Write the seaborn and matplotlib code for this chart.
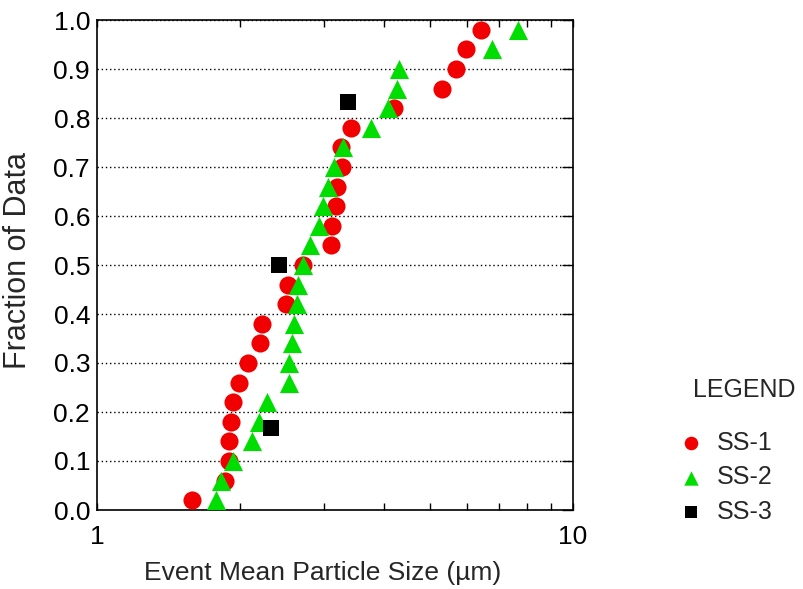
import pandas as pd
import seaborn as sns
import matplotlib.pyplot as plt
from matplotlib.ticker import FixedLocator, FixedFormatter, NullFormatter

# values
ss1_size = [1.58, 1.86, 1.89, 1.89, 1.91, 1.93, 1.99, 2.08, 2.20, 2.22, 2.50, 2.52, 2.71,
            3.10, 3.12, 3.17, 3.20, 3.27, 3.26, 3.41, 4.21, 5.31, 5.67, 5.95, 6.41]
ss1_frac = [0.02, 0.06, 0.10, 0.14, 0.18, 0.22, 0.26, 0.30, 0.34, 0.38, 0.42, 0.46, 0.50,
            0.54, 0.58, 0.62, 0.66, 0.70, 0.74, 0.78, 0.82, 0.86, 0.90, 0.94, 0.98]

ss2_size = [1.78, 1.82, 1.93, 2.12, 2.19, 2.28, 2.53, 2.535, 2.565, 2.59, 2.63, 2.64, 2.71,
            2.80, 2.92, 2.99, 3.05, 3.14, 3.29, 3.76, 4.08, 4.26, 4.30, 6.75, 7.68]
ss2_frac = [0.02, 0.06, 0.10, 0.14, 0.18, 0.22, 0.26, 0.30, 0.34, 0.38, 0.42, 0.46, 0.50,
            0.54, 0.58, 0.62, 0.66, 0.70, 0.74, 0.78, 0.82, 0.86, 0.90, 0.94, 0.98]

ss3_size = [2.32, 2.415, 3.36]
ss3_frac = [0.167, 0.500, 0.833]

series = ['SS-1', 'SS-2', 'SS-3']
colors = {'SS-1': '#f00000', 'SS-2': '#00dd00', 'SS-3': 'black'}
markers = {'SS-1': 'o', 'SS-2': '^', 'SS-3': 's'}
sizes = {'SS-1': 170, 'SS-2': 190, 'SS-3': 120}

df1 = pd.DataFrame({'size': ss1_size, 'frac': ss1_frac, 'series': 'SS-1'})
df2 = pd.DataFrame({'size': ss2_size, 'frac': ss2_frac, 'series': 'SS-2'})
df3 = pd.DataFrame({'size': ss3_size, 'frac': ss3_frac, 'series': 'SS-3'})

sns.set_style("white")
plt.rcParams['font.family'] = ['Liberation Sans', 'DejaVu Sans']

fig = plt.figure(figsize=(8.04, 5.89), dpi=100)
ax = fig.add_axes([97 / 804, 79 / 589, 476 / 804, 490 / 589])

for name, d in zip(series, [df1, df2, df3]):
    sns.scatterplot(data=d, x='size', y='frac', color=colors[name], marker=markers[name],
                    s=sizes[name], linewidth=0, label=name, ax=ax, zorder=3)

ax.set_xscale('log')
ax.set_xlim(1, 10)
ax.set_ylim(0, 1.0)
ax.xaxis.set_major_locator(FixedLocator([1, 10]))
ax.xaxis.set_major_formatter(FixedFormatter(['1', '10']))
ax.xaxis.set_minor_locator(FixedLocator([2, 3, 4, 5, 6, 7, 8, 9]))
ax.xaxis.set_minor_formatter(NullFormatter())
ax.set_yticks([0.0, 0.1, 0.2, 0.3, 0.4, 0.5, 0.6, 0.7, 0.8, 0.9, 1.0])
ax.set_yticklabels(['0.0', '0.1', '0.2', '0.3', '0.4', '0.5', '0.6', '0.7', '0.8', '0.9', '1.0'])

ax.yaxis.grid(True, linestyle=(0, (1, 2)), color='black', linewidth=1)
ax.xaxis.grid(False)
for sp in ax.spines.values():
    sp.set_color('black')
    sp.set_linewidth(1.2)

ax.tick_params(axis='x', which='both', direction='in', top=True, bottom=True,
               length=5, width=1, colors='black', labelsize=19, pad=11)
ax.tick_params(axis='y', which='both', direction='in', left=False, right=True,
               length=8, width=1, colors='black', labelsize=19, pad=5)

ax.set_xlabel('Event Mean Particle Size (µm)', fontsize=19)
ax.xaxis.set_label_coords(0.474, -0.104)
ax.set_ylabel('Fraction of Data', fontsize=22)
ax.yaxis.set_label_coords(-0.134, 0.51)

fig.text(693 / 804, (589 - 390) / 589, 'LEGEND', fontsize=18, va='center', ha='left')
ax.legend(loc='upper left', bbox_to_anchor=(679 / 804, (589 - 431) / 589),
          bbox_transform=fig.transFigure, frameon=False, fontsize=18,
          markerscale=0.75, handlelength=1.0, handletextpad=0.5,
          borderpad=0, borderaxespad=0, labelspacing=0.42)

fig.savefig('out.png', dpi=100)
